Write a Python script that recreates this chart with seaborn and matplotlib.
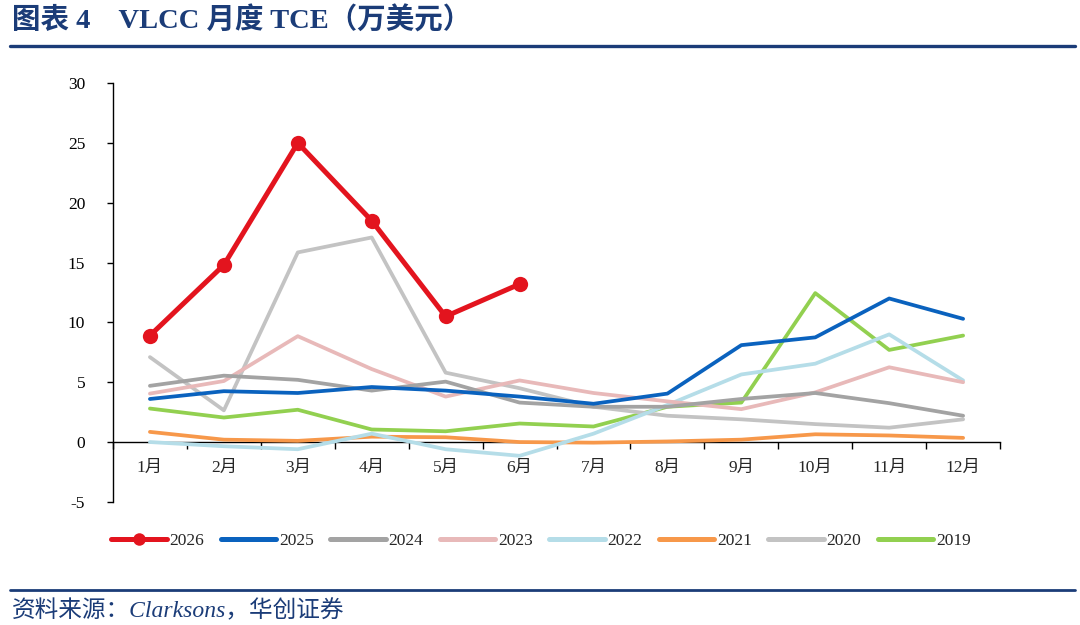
import matplotlib
matplotlib.use("Agg")
import matplotlib.pyplot as plt
import seaborn as sns
import pandas as pd
from matplotlib.lines import Line2D
from matplotlib.ticker import FixedLocator

months = ["1月", "2月", "3月", "4月", "5月", "6月", "7月", "8月", "9月", "10月", "11月", "12月"]

y2026 = [8.9, 14.8, 25.0, 18.5, 10.5, 13.2]
y2025 = [3.6, 4.25, 4.1, 4.6, 4.3, 3.8, 3.2, 4.05, 8.1, 8.75, 12.0, 10.3]
y2024 = [4.7, 5.55, 5.2, 4.3, 5.05, 3.3, 2.95, 2.95, 3.6, 4.1, 3.25, 2.2]
y2023 = [4.05, 5.1, 8.85, 6.1, 3.8, 5.15, 4.1, 3.4, 2.75, 4.15, 6.25, 5.0]
y2022 = [0.0, -0.35, -0.6, 0.7, -0.6, -1.15, 0.7, 3.1, 5.65, 6.55, 9.0, 5.15]
y2021 = [0.85, 0.2, 0.1, 0.45, 0.4, 0.0, -0.05, 0.05, 0.2, 0.65, 0.55, 0.35]
y2020 = [7.1, 2.65, 15.85, 17.1, 5.8, 4.5, 2.95, 2.2, 1.9, 1.5, 1.2, 1.9]
y2019 = [2.8, 2.05, 2.7, 1.05, 0.9, 1.55, 1.3, 2.95, 3.3, 12.45, 7.7, 8.9]

years = ["2026", "2025", "2024", "2023", "2022", "2021", "2020", "2019"]
series = [y2026, y2025, y2024, y2023, y2022, y2021, y2020, y2019]
colors = {"2026": "#E3141E", "2025": "#0A62BE", "2024": "#A3A3A3", "2023": "#E8B9B9",
          "2022": "#B5DDE8", "2021": "#F7984A", "2020": "#C3C3C3", "2019": "#92D050"}

rows = []
for yr, vals in zip(years, series):
    for i, v in enumerate(vals):
        rows.append({"year": yr, "idx": i, "value": v})
df = pd.DataFrame(rows)

sns.set_theme(style="white")
plt.rcParams["font.family"] = ["Liberation Serif", "Noto Sans CJK SC"]
plt.rcParams["axes.unicode_minus"] = False

fig = plt.figure(figsize=(10.8, 6.25), dpi=100)
ax = fig.add_axes([0.1046, 0.197, 0.8214, 0.670])

navy = "#1B3C78"
handles = {}
for z, yr in enumerate(reversed(years)):
    sub = df[df["year"] == yr]
    if yr == "2026":
        sns.lineplot(data=sub, x="idx", y="value", ax=ax, color=colors[yr], lw=3.6,
                     marker="o", markersize=11, markeredgewidth=0, zorder=10, legend=False)
        handles[yr] = Line2D([], [], color=colors[yr], lw=3.6, marker="o", markersize=9,
                             markeredgewidth=0)
    else:
        sns.lineplot(data=sub, x="idx", y="value", ax=ax, color=colors[yr], lw=2.7,
                     zorder=2 + z, legend=False)
        handles[yr] = Line2D([], [], color=colors[yr], lw=3.6)

ax.set_xlim(-0.5, 11.5)
ax.set_ylim(-5, 30)
ax.set_yticks(range(-5, 31, 5))
ax.tick_params(axis="y", labelsize=12.5, length=4, width=1, direction="out", left=True, pad=16, colors="black")

for s in ["top", "right"]:
    ax.spines[s].set_visible(False)
ax.spines["left"].set_color("black")
ax.spines["left"].set_linewidth(1)
ax.spines["bottom"].set_position(("data", 0))
ax.spines["bottom"].set_color("black")
ax.spines["bottom"].set_linewidth(1)

ax.xaxis.set_major_locator(FixedLocator([i - 0.5 for i in range(13)]))
ax.xaxis.set_major_formatter(plt.NullFormatter())
ax.xaxis.set_minor_locator(FixedLocator(list(range(12))))
ax.set_xticks(list(range(12)), minor=True)
ax.set_xticklabels(months, minor=True)
ax.tick_params(axis="x", which="major", length=5, width=1, direction="out", bottom=True, colors="black")
ax.tick_params(axis="x", which="minor", length=0, labelsize=12.5, pad=13)
ax.set_xlabel("")
ax.set_ylabel("")
ax.grid(False)

leg = ax.legend([handles[y] for y in years], years, loc="center", bbox_to_anchor=(0.4825, -0.093),
                ncol=8, frameon=False, fontsize=12.5, handlelength=3.2, columnspacing=0.95,
                handletextpad=0.15)

fig.text(0.011, 0.968, "图表 4    VLCC 月度 TCE（万美元）", fontsize=20.5, fontweight="bold",
         color=navy, va="center", ha="left")
fig.add_artist(Line2D([0.009, 0.995], [0.926, 0.926], transform=fig.transFigure, color=navy, lw=2.4))
fig.add_artist(Line2D([0.009, 0.995], [0.056, 0.056], transform=fig.transFigure, color=navy, lw=2.0))
fig.text(0.011, 0.022, "资料来源：Clarksons，华创证券", fontsize=17, style="italic",
         color=navy, va="center", ha="left")

fig.savefig("out.png", dpi=100)
